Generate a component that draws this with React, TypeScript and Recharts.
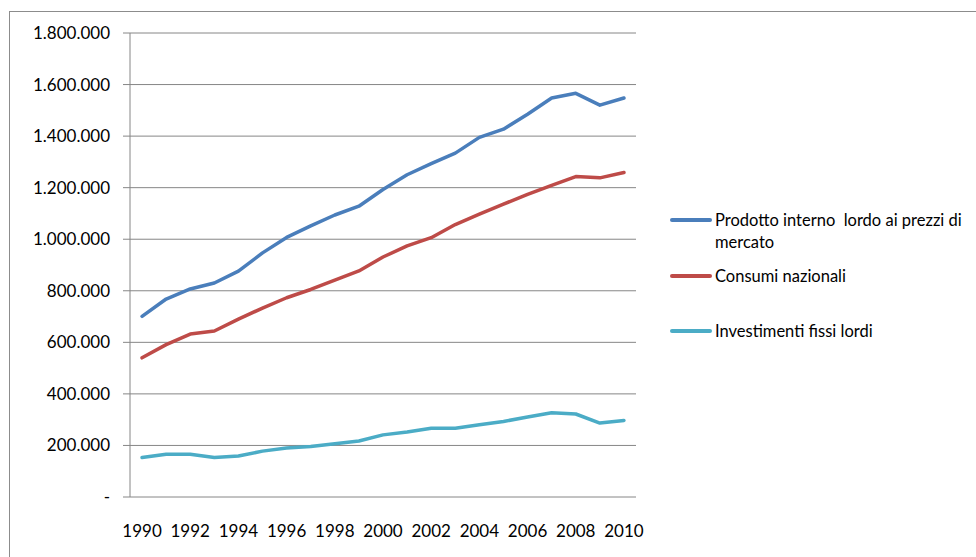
import React from "react";
import { LineChart, Line, XAxis, YAxis, CartesianGrid } from "recharts";

const years = [
  1990, 1991, 1992, 1993, 1994, 1995, 1996, 1997, 1998, 1999, 2000,
  2001, 2002, 2003, 2004, 2005, 2006, 2007, 2008, 2009, 2010,
];

const pil = [
  701000, 768000, 807000, 830000, 876000, 947000, 1007000, 1052000, 1094000, 1128000, 1193000,
  1250000, 1293000, 1334000, 1395000, 1427000, 1485000, 1548000, 1566000, 1520000, 1548000,
];

const consumi = [
  540000, 591000, 632000, 644000, 690000, 733000, 773000, 805000, 841000, 877000, 931000,
  974000, 1006000, 1057000, 1097000, 1136000, 1174000, 1209000, 1243000, 1238000, 1259000,
];

const investimenti = [
  153000, 166000, 166000, 153000, 159000, 178000, 190000, 196000, 207000, 217000, 241000,
  252000, 267000, 267000, 280000, 293000, 310000, 327000, 322000, 287000, 297000,
];

const yTicks = [0, 200000, 400000, 600000, 800000, 1000000, 1200000, 1400000, 1600000, 1800000];
const labelYears = [1990, 1992, 1994, 1996, 1998, 2000, 2002, 2004, 2006, 2008, 2010];

const SERIES = [
  { key: "pil", name: "Prodotto interno  lordo ai prezzi di mercato", color: "#4A7EBB" },
  { key: "consumi", name: "Consumi nazionali", color: "#BE4B48" },
  { key: "investimenti", name: "Investimenti fissi lordi", color: "#4BACC6" },
];

const data = years.map((year, i) => ({
  year,
  pil: pil[i],
  consumi: consumi[i],
  investimenti: investimenti[i],
}));

// tick marks sit between the categories, like a category axis with "between" placement
const boundaries = [...years.map((y) => y - 0.5), years[years.length - 1] + 0.5];

const AXIS = "#868686";
const FONT = "Lato, 'Open Sans', sans-serif";

const formatThousands = (v: number) =>
  v === 0 ? "-" : String(v).replace(/\B(?=(\d{3})+(?!\d))/g, ".");

function SideLegend() {
  return (
    <div
      style={{
        position: "absolute",
        left: 670,
        top: 209,
        fontFamily: FONT,
        fontSize: 16.5,
        color: "#000",
      }}
    >
      {SERIES.map((s) => (
        <div key={s.key} style={{ display: "flex", alignItems: "flex-start", height: 55.5 }}>
          <span
            style={{
              display: "inline-block",
              width: 42,
              height: 4,
              borderRadius: 2,
              marginTop: 9,
              marginRight: 3,
              background: s.color,
            }}
          />
          <span style={{ width: 260, lineHeight: "22px", whiteSpace: "pre-wrap" }}>{s.name}</span>
        </div>
      ))}
    </div>
  );
}

export default function App() {
  return (
    <div
      style={{
        position: "absolute",
        left: 0,
        top: 0,
        width: 976,
        height: 557,
        overflow: "hidden",
        background: "#fff",
      }}
    >
      <div
        style={{
          position: "absolute",
          left: 9,
          top: 11,
          width: 1000,
          height: 600,
          border: "1px solid #8c8c8c",
        }}
      />
      <div style={{ position: "absolute", left: 0, top: 0 }}>
        <LineChart
          width={976}
          height={557}
          data={data}
          margin={{ top: 33, right: 340, bottom: 30, left: 10 }}
        >
          <CartesianGrid vertical={false} stroke={AXIS} strokeWidth={1} />
          <XAxis
            xAxisId="main"
            type="number"
            dataKey="year"
            domain={[1989.5, 2010.5]}
            ticks={boundaries}
            tickFormatter={() => ""}
            interval={0}
            height={0}
            tickSize={6}
            axisLine={{ stroke: AXIS }}
            tickLine={{ stroke: AXIS }}
          />
          <XAxis
            xAxisId="labels"
            type="number"
            dataKey="year"
            domain={[1989.5, 2010.5]}
            ticks={labelYears}
            interval={0}
            height={30}
            tickSize={0}
            tickMargin={28}
            axisLine={false}
            tickLine={false}
            tick={{ fill: "#000", fontSize: 17, fontFamily: FONT }}
          />
          <YAxis
            domain={[0, 1800000]}
            ticks={yTicks}
            interval={0}
            width={120}
            tickSize={7}
            tickMargin={13}
            tickFormatter={formatThousands}
            axisLine={{ stroke: AXIS }}
            tickLine={{ stroke: AXIS }}
            tick={{ fill: "#000", fontSize: 17, fontFamily: FONT }}
          />
          {SERIES.map((s) => (
            <Line
              key={s.key}
              xAxisId="main"
              type="linear"
              dataKey={s.key}
              name={s.name}
              stroke={s.color}
              strokeWidth={3.5}
              strokeLinecap="round"
              strokeLinejoin="round"
              dot={false}
              activeDot={false}
              isAnimationActive={false}
            />
          ))}
        </LineChart>
      </div>
      <SideLegend />
    </div>
  );
}
